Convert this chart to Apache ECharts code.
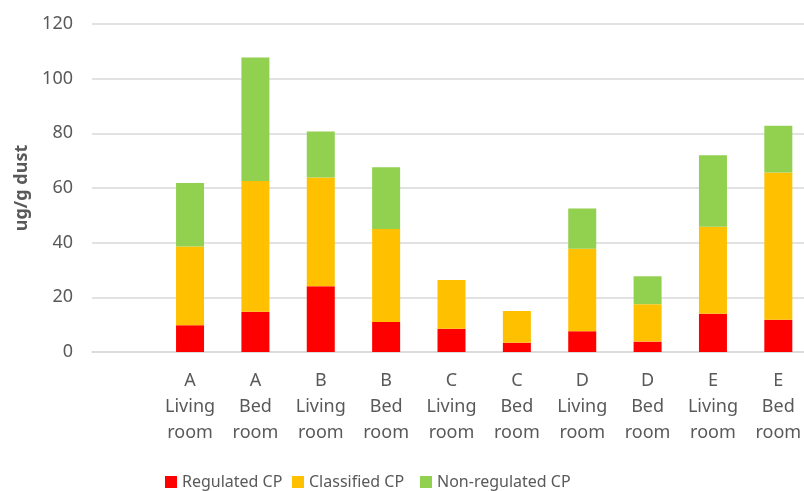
<!DOCTYPE html>
<html>
<head>
<meta charset="utf-8">
<style>
  html, body { margin: 0; padding: 0; background: #fff; }
  #chart { width: 804px; height: 491px; }
</style>
<script src="https://cdn.jsdelivr.net/npm/echarts@6/dist/echarts.min.js"></script>
</head>
<body>
<div id="chart"></div>
<script>
  // first slot is left empty, as in the original sheet
  var categories = ['', 'A\nLiving\nroom', 'A\nBed\nroom', 'B\nLiving\nroom', 'B\nBed\nroom',
    'C\nLiving\nroom', 'C\nBed\nroom', 'D\nLiving\nroom', 'D\nBed\nroom', 'E\nLiving\nroom', 'E\nBed\nroom'];
  var regulated = ['-', 9.8, 14.7, 24.1, 11.0, 8.5, 3.4, 7.6, 3.8, 14.0, 11.8];
  var classified = ['-', 28.8, 47.9, 39.7, 34.0, 17.8, 11.6, 30.2, 13.7, 31.8, 53.9];
  var nonRegulated = ['-', 23.2, 45.1, 16.9, 22.6, 0, 0, 14.7, 10.2, 26.2, 17.1];
  var seriesNames = ['Regulated CP', 'Classified CP', 'Non-regulated CP'];

  var fontFamily = 'Noto Sans';
  var textColor = '#595959';
  var legendLeft = [160, 287, 415];

  var legends = seriesNames.map(function (name, i) {
    return {
      top: 469,
      left: legendLeft[i],
      itemWidth: 12,
      itemHeight: 12,
      icon: 'rect',
      textStyle: { color: textColor, fontSize: 16, fontFamily: fontFamily },
      data: [name]
    };
  });

  var chart = echarts.init(document.getElementById('chart'));
  var option = {
    animation: false,
    textStyle: { fontFamily: fontFamily },
    // plot runs a little past the right edge, as in the source image
    grid: { left: 92, right: -7, top: 24, bottom: 139, outerBoundsMode: 'none' },
    legend: legends,
    xAxis: {
      type: 'category',
      data: categories,
      axisTick: { show: false },
      axisLine: { lineStyle: { color: '#d9d9d9', width: 1.5 } },
      axisLabel: {
        color: textColor,
        fontSize: 18,
        lineHeight: 26,
        margin: 16,
        interval: 0
      }
    },
    yAxis: {
      type: 'value',
      min: 0,
      max: 120,
      interval: 20,
      name: 'ug/g dust',
      nameLocation: 'middle',
      nameGap: 61,
      nameTextStyle: { color: textColor, fontSize: 18, fontWeight: 'bold' },
      axisLine: { show: false },
      axisTick: { show: false },
      axisLabel: { color: textColor, fontSize: 18, margin: 19 },
      splitLine: { lineStyle: { color: '#d9d9d9', width: 1.5 } }
    },
    series: [
      {
        name: seriesNames[0], type: 'bar', stack: 'total', barWidth: 28,
        itemStyle: { color: '#ff0000' }, data: regulated
      },
      {
        name: seriesNames[1], type: 'bar', stack: 'total', barWidth: 28,
        itemStyle: { color: '#ffc000' }, data: classified
      },
      {
        name: seriesNames[2], type: 'bar', stack: 'total', barWidth: 28,
        itemStyle: { color: '#92d050' }, data: nonRegulated
      }
    ]
  };
  chart.setOption(option);
</script>
</body>
</html>
